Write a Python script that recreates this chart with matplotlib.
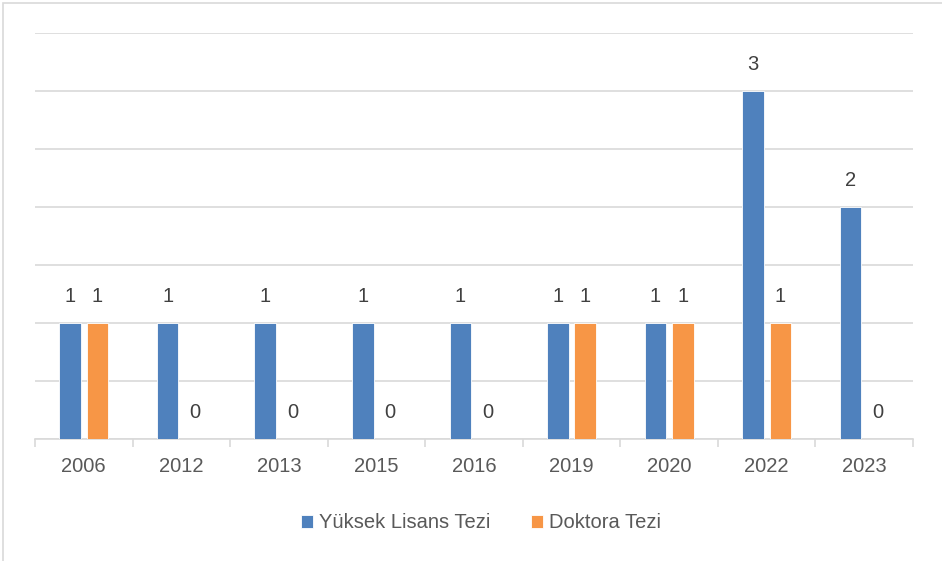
import matplotlib.pyplot as plt
import numpy as np
from matplotlib.patches import Rectangle

plt.rcParams['font.family'] = ['Liberation Sans', 'DejaVu Sans']

years = ['2006', '2012', '2013', '2015', '2016', '2019', '2020', '2022', '2023']
yuksek_lisans = [1, 1, 1, 1, 1, 1, 1, 3, 2]
doktora = [1, 0, 0, 0, 0, 1, 1, 1, 0]
series_names = ['Yüksek Lisans Tezi', 'Doktora Tezi']

blue = '#4f81bd'
orange = '#f79646'
text_col = '#404040'
fs = 14.5

fig = plt.figure(figsize=(9.42, 5.61), dpi=100)
ax = fig.add_axes([35 / 942, 1 - 439 / 561, (913 - 35) / 942, (439 - 33) / 561])

# outer chart frame
fig.patches.append(Rectangle((3 / 942, -0.1), 1.2, 1 - 3 / 561 + 0.1,
                             transform=fig.transFigure, fill=False,
                             edgecolor='#d9d9d9', linewidth=1.2))

x = np.arange(len(years))
w = 0.22
off = 0.14
b1 = ax.bar(x - off, yuksek_lisans, w, color=blue, edgecolor='white', linewidth=0.6,
            label=series_names[0], zorder=3)
b2 = ax.bar(x + off, doktora, w, color=orange, edgecolor='white', linewidth=0.6,
            label=series_names[1], zorder=3)

for bars in (b1, b2):
    for r in bars:
        h = r.get_height()
        ax.annotate(f'{h:g}', (r.get_x() + r.get_width() / 2, h),
                    xytext=(0, 12), textcoords='offset points',
                    ha='center', va='bottom', fontsize=fs, color=text_col)

ax.set_xlim(-0.5, len(years) - 0.5)
ax.set_ylim(0, 3.5)
ax.set_yticks(np.arange(0, 3.51, 0.5))
ax.yaxis.grid(True, color='#d9d9d9', linewidth=1.2, zorder=0)
ax.tick_params(axis='y', length=0, labelleft=False)

ax.set_xticks(x)
ax.set_xticklabels(years, fontsize=fs, color='#595959')
ax.set_xticks(np.arange(-0.5, len(years)), minor=True)
ax.tick_params(axis='x', which='major', length=0, pad=13)
ax.tick_params(axis='x', which='minor', length=6, color='#d9d9d9', width=1.2)

for s in ['top', 'right', 'left']:
    ax.spines[s].set_visible(False)
ax.spines['bottom'].set_color('#d9d9d9')
ax.spines['bottom'].set_linewidth(1.2)

fig.legend(handles=[b1, b2], loc='center', bbox_to_anchor=(481 / 942, 1 - 523 / 561),
           ncol=2, frameon=False, fontsize=fs, handlelength=0.6, handleheight=0.6,
           handletextpad=0.3, columnspacing=2.0, labelcolor='#595959')

fig.savefig('out.png', dpi=100)
